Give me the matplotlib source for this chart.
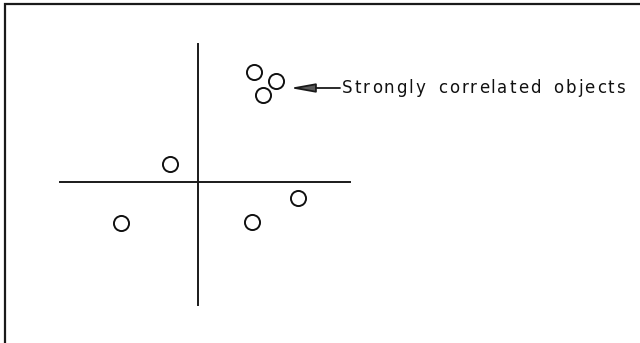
import matplotlib
matplotlib.use("Agg")
import matplotlib.pyplot as plt
from matplotlib.patches import Rectangle
from matplotlib.transforms import offset_copy
import numpy as np

# object positions relative to the cross
obj_x = [5.6, 7.8, 6.5, -2.8, -7.7, 5.4, 10.0]
obj_y = [11.0, 10.1, 8.7, 1.8, -4.1, -4.0, -1.6]

# axis line extents
hline_x = [-13.8, 15.2]
vline_y = [-12.3, 13.8]

label = "Strongly correlated objects"
arrow_tip = (9.2, 9.4)
arrow_tail = (14.2, 9.4)

fig = plt.figure(figsize=(6.4, 3.43), dpi=100)
ax = fig.add_axes([0, 0, 1, 1])
ax.set_xlim(-19.8, 44.2)
ax.set_ylim(-16.1, 18.2)
ax.axis("off")

# frame (right and bottom edges run off the picture)
fig.patches.append(Rectangle((5 / 640, -0.1), 1.2, 1 - 4 / 343 + 0.1,
                             transform=fig.transFigure, fill=False,
                             edgecolor="#1a1a1a", linewidth=1.6))

ax.plot(hline_x, [0, 0], color="#1a1a1a", linewidth=1.4)
ax.plot([0, 0], vline_y, color="#1a1a1a", linewidth=1.4)

ax.scatter(obj_x, obj_y, s=118, facecolors="white", edgecolors="#111111",
           linewidths=1.4, zorder=3)

ax.annotate("", xy=arrow_tip, xytext=arrow_tail,
            arrowprops=dict(arrowstyle="-|>,head_length=1.5,head_width=0.27",
                            mutation_scale=10, facecolor="#5a5a5a",
                            edgecolor="#1a1a1a", linewidth=1.3,
                            shrinkA=0, shrinkB=0))

# the label is set with wide letter spacing, so place it letter by letter
renderer = fig.canvas.get_renderer()
fs = 12
target_w = 283.0
space_w = 9.0
widths = []
for ch in label:
    if ch == " ":
        widths.append(space_w)
    else:
        t = ax.text(0, 0, ch, fontsize=fs)
        widths.append(t.get_window_extent(renderer).width)
        t.remove()
track = (target_w - sum(widths)) / (len(label) - 1)
x_off = 0.0
for ch, w in zip(label, widths):
    if ch != " ":
        tr = offset_copy(ax.transData, fig=fig, x=x_off, y=-5, units="dots")
        ax.text(arrow_tail[0] + 0.2, arrow_tail[1], ch, transform=tr,
                ha="left", va="baseline", fontsize=fs, color="#111111")
    x_off += w + track

fig.savefig("out.png", dpi=100)
